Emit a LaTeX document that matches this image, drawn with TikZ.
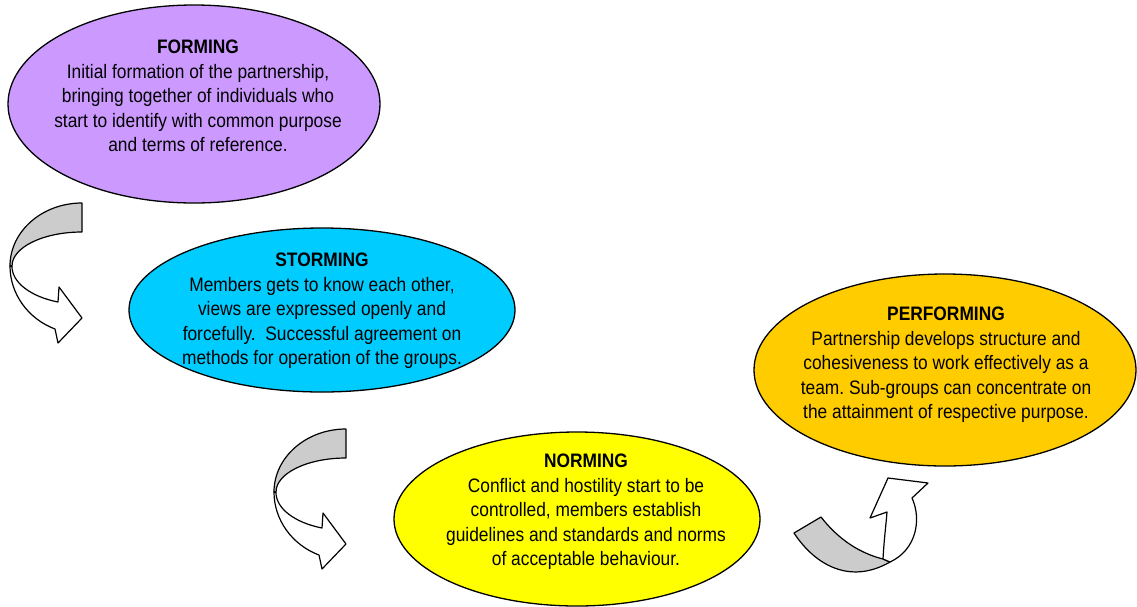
\documentclass[tikz,border=0pt]{standalone}
\usepackage{fontspec}
\setmainfont{Liberation Sans}[FakeStretch=0.89]
\usepackage{tikz}
\usetikzlibrary{shapes.geometric}
\frenchspacing

\definecolor{formcol}{HTML}{CC99FF}
\definecolor{stormcol}{HTML}{00CCFF}
\definecolor{normcol}{HTML}{FFFF00}
\definecolor{perfcol}{HTML}{FFCC00}
\definecolor{bandgray}{HTML}{CCCCCC}

\begin{document}
\begin{tikzpicture}[x=1pt,y=-1pt,
    stage/.style={draw,ellipse,line width=1.3pt,inner sep=0pt},
    stagetext/.style={align=center,inner sep=0pt,font=\fontsize{19.5}{24.5}\selectfont},
    band/.style={draw,line width=1.2pt,line join=round}]
        \useasboundingbox (0,0) rectangle (1137,606);
        % the four stages
        \node[stage,fill=formcol,minimum width=372pt,minimum height=198pt] (forming) at (194,104) {};
        \node[stage,fill=stormcol,minimum width=386pt,minimum height=164pt] (storming) at (322,310) {};
        \node[stage,fill=normcol,minimum width=366pt,minimum height=174pt] (norming) at (577,519) {};
        \node[stage,fill=perfcol,minimum width=382pt,minimum height=192pt] (performing) at (945,370) {};
        \node[stagetext] (formtxt) at (198,96) {\textbf{FORMING}\\Initial formation of the partnership,\\bringing together of individuals who\\start to identify with common purpose\\and terms of reference.};
        \node[stagetext] (stormtxt) at (322,311) {\textbf{STORMING}\\Members gets to know each other,\\views are expressed openly and\\forcefully.\ \ Successful agreement on\\methods for operation of the groups.};
        \node[stagetext] (normtxt) at (586,512) {\textbf{NORMING}\\Conflict and hostility start to be\\controlled, members establish\\guidelines and standards and norms\\of acceptable behaviour.};
        \node[stagetext] (perftxt) at (946,365) {\textbf{PERFORMING}\\Partnership develops structure and\\cohesiveness to work effectively as a\\team. Sub-groups can concentrate on\\the attainment of respective purpose.};
        % curved arrows between the stages
        \foreach \dx/\dy in {0/0,264/226} {
          \begin{scope}[shift={(\dx,\dy)}]
            \draw[band,fill=bandgray] (82,203) arc[start angle=90,end angle=180,x radius=72pt,y radius=63pt]
              -- (12,266) arc[start angle=180,end angle=90,x radius=70pt,y radius=34pt] -- cycle;
            \draw[band,fill=white] (10,266) arc[start angle=180,end angle=248,x radius=72pt,y radius=68pt]
              -- (58,343) -- (82,318) -- (59,287) -- (58,302)
              arc[start angle=250,end angle=180,x radius=70pt,y radius=38pt] -- cycle;
          \end{scope}
        }
        \draw[band,fill=bandgray] (794,533) .. controls (815,565) and (850,585) .. (890,562)
          -- (883,559) .. controls (855,552) and (835,535) .. (821,517) -- cycle;
        \draw[band,fill=white] (883,559) .. controls (884,540) and (886,525) .. (887,512)
          -- (870,518) -- (888,478) -- (928,483) -- (912,498)
          .. controls (922,520) and (916,550) .. (890,562) -- cycle;
\end{tikzpicture}
\end{document}
